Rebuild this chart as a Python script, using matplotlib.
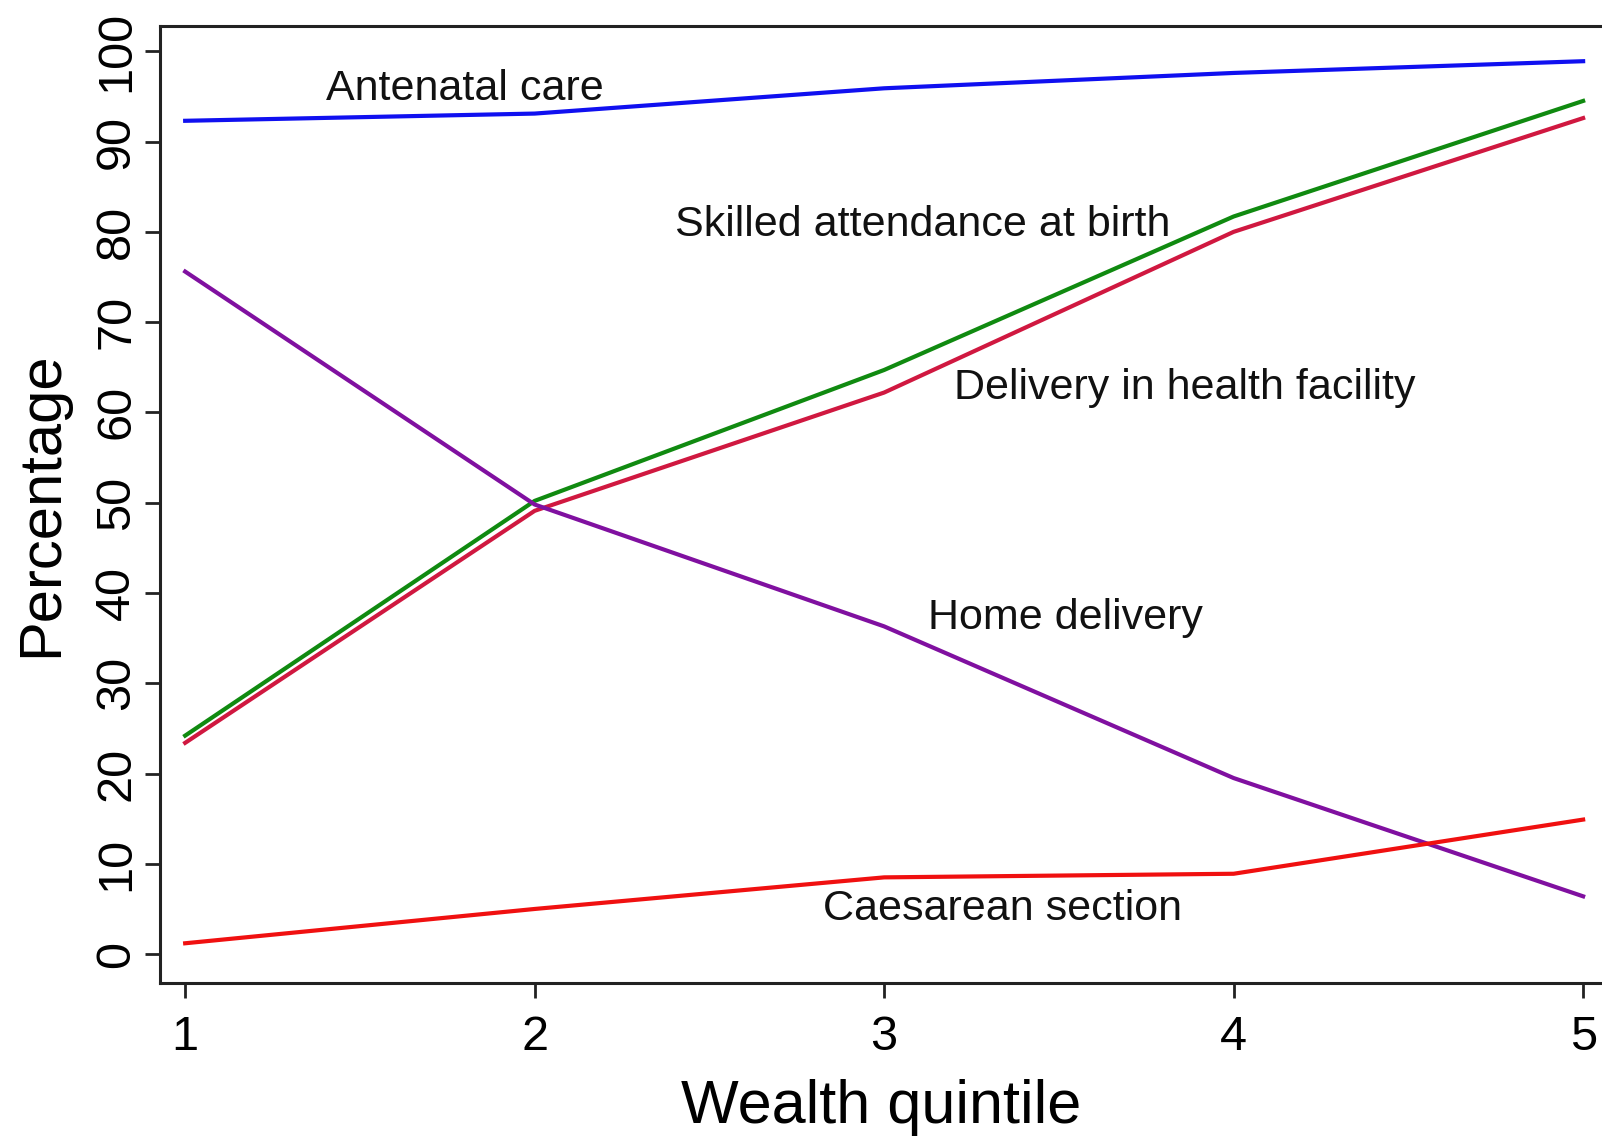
import matplotlib.pyplot as plt

plt.rcParams['font.family'] = ['Liberation Sans', 'DejaVu Sans']

quintile = [1, 2, 3, 4, 5]
antenatal = [92.3, 93.1, 95.9, 97.6, 98.9]
skilled = [24.2, 50.2, 64.7, 81.7, 94.5]
facility = [23.4, 49.1, 62.2, 80.0, 92.6]
home = [75.6, 49.8, 36.3, 19.5, 6.4]
caesarean = [1.2, 5.0, 8.5, 8.9, 14.9]

labels = ["Antenatal care", "Skilled attendance at birth",
          "Delivery in health facility", "Home delivery", "Caesarean section"]
label_x = [1.80, 3.11, 3.86, 3.52, 3.34]
label_y = [95.8, 80.8, 62.7, 37.2, 5.0]

fig = plt.figure(figsize=(16.02, 11.38), dpi=100)
ax = fig.add_axes([160 / 1602, 1 - 983 / 1138, 1 - 160 / 1602, (983 - 26) / 1138])

lw = 3.0
ax.plot(quintile, antenatal, color='#1010f0', lw=lw)
ax.plot(quintile, skilled, color='#108a10', lw=lw)
ax.plot(quintile, facility, color='#d01840', lw=lw)
ax.plot(quintile, home, color='#8010a0', lw=lw)
ax.plot(quintile, caesarean, color='#f01010', lw=lw)

for t, x, y in zip(labels, label_x, label_y):
    ax.text(x, y, t, fontsize=31, ha='center', va='center', color='#111111')

ax.set_xlim(0.928, 5.054)
ax.set_ylim(-3.2, 102.8)
ax.set_xticks(quintile)
ax.set_yticks(range(0, 101, 10))
ax.tick_params(axis='both', labelsize=35, length=11, width=2, color='#222222')
ax.tick_params(axis='x', pad=12)
ax.tick_params(axis='y', pad=4)
for lab in ax.get_yticklabels():
    lab.set_rotation(90)
    lab.set_va('center')

for s in ['left', 'bottom', 'top']:
    ax.spines[s].set_linewidth(2.2)
    ax.spines[s].set_color('#222222')
ax.spines['right'].set_visible(False)

ax.set_xlabel("Wealth quintile", fontsize=44, labelpad=14)
ax.set_ylabel("Percentage", fontsize=43, labelpad=18)

fig.savefig("out.png", dpi=100)
